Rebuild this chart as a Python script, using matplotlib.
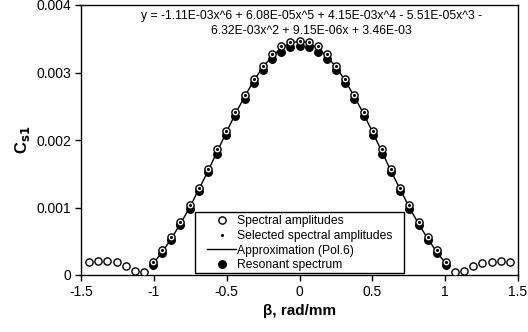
import numpy as np
import matplotlib
matplotlib.use('Agg')
import matplotlib.pyplot as plt
from matplotlib.patches import Rectangle

plt.rcParams['font.family'] = ['Liberation Sans', 'DejaVu Sans']

# beta positions, rad/mm (step ~0.0628)
beta = [-1.445, -1.382, -1.319, -1.256, -1.194, -1.131, -1.068, -1.005,
        -0.942, -0.880, -0.817, -0.754, -0.691, -0.628, -0.565, -0.503,
        -0.440, -0.377, -0.314, -0.251, -0.188, -0.126, -0.063, 0.0,
        0.063, 0.126, 0.188, 0.251, 0.314, 0.377, 0.440, 0.503,
        0.565, 0.628, 0.691, 0.754, 0.817, 0.880, 0.942, 1.005,
        1.068, 1.131, 1.194, 1.256, 1.319, 1.382, 1.445]

# spectral amplitudes (open circles), x1e-3
spectral = [0.20, 0.21, 0.21, 0.19, 0.14, 0.06, 0.05, 0.19,
            0.37, 0.57, 0.79, 1.03, 1.29, 1.57, 1.86, 2.14,
            2.41, 2.67, 2.90, 3.10, 3.27, 3.39, 3.45, 3.47,
            3.45, 3.39, 3.27, 3.10, 2.90, 2.67, 2.41, 2.14,
            1.86, 1.57, 1.29, 1.03, 0.79, 0.57, 0.37, 0.19,
            0.05, 0.06, 0.13, 0.18, 0.20, 0.21, 0.20]

# selected range (|beta| <= 1)
beta_sel = beta[7:40]
selected = spectral[7:40]

# polynomial approximation read at the selected points, x1e-3
approx = [0.17, 0.34, 0.54, 0.76, 1.00, 1.27, 1.54, 1.83, 2.11,
          2.39, 2.64, 2.88, 3.08, 3.24, 3.36, 3.44, 3.46,
          3.44, 3.36, 3.24, 3.08, 2.88, 2.64, 2.39, 2.11,
          1.83, 1.54, 1.27, 1.00, 0.76, 0.54, 0.34, 0.17]

# resonant spectrum (filled circles), x1e-3
resonant = [0.15, 0.32, 0.52, 0.74, 0.98, 1.24, 1.52, 1.80, 2.08,
            2.35, 2.61, 2.84, 3.04, 3.20, 3.31, 3.38, 3.40,
            3.38, 3.31, 3.20, 3.04, 2.84, 2.61, 2.35, 2.08,
            1.80, 1.52, 1.24, 0.98, 0.74, 0.52, 0.32, 0.15]

equation = ('y = -1.11E-03x^6 + 6.08E-05x^5 + 4.15E-03x^4 - 5.51E-05x^3 -\n'
            '6.32E-03x^2 + 9.15E-06x + 3.46E-03')

W, H = 528, 332
sc = 1e-3
fig = plt.figure(figsize=(W / 100, H / 100), dpi=100)
ax = fig.add_axes([81 / W, 1 - 275 / H, 437 / W, 270 / H])

ax.plot(beta_sel, np.array(resonant) * sc, 'o', color='black', ms=5.4,
        zorder=2, label='Resonant spectrum')
ax.plot(beta_sel, np.array(approx) * sc, '-', color='black', lw=1.0,
        zorder=3, label='Approximation (Pol.6)')
ax.plot(beta, np.array(spectral) * sc, 'o', mfc='white', mec='black',
        mew=1.0, ms=5.2, zorder=4, label='Spectral amplitudes')
ax.plot(beta_sel, np.array(selected) * sc, '.', color='black', ms=2.5,
        zorder=5, label='Selected spectral amplitudes')

ax.set_xlim(-1.5, 1.5)
ax.set_ylim(0, 0.004)
ax.set_xticks([-1.5, -1, -0.5, 0, 0.5, 1, 1.5])
ax.set_xticklabels(['-1.5', '-1', '-0.5', '0', '0.5', '1', '1.5'])
ax.set_yticks([0, 0.001, 0.002, 0.003, 0.004])
ax.set_yticklabels(['0', '0.001', '0.002', '0.003', '0.004'])
ax.tick_params(direction='out', length=4, width=1, labelsize=10, pad=3)
for s in ax.spines.values():
    s.set_linewidth(1.0)

ax.set_xlabel('β, rad/mm', fontsize=11, fontweight='bold', labelpad=4)
ax.set_ylabel('C$_{\\mathbf{s1}}$', fontsize=12, fontweight='bold', labelpad=3)

ax.text(0.08, 0.00392, equation, ha='center', va='top', fontsize=8.7,
        linespacing=1.25)

# legend with a hand-placed square frame
fig.patches.append(Rectangle((195 / W, 1 - 273 / H), 209 / W, 61 / H,
                             transform=fig.transFigure, fill=True,
                             facecolor='white', edgecolor='black', lw=1.0,
                             zorder=10))
h, l = ax.get_legend_handles_labels()
order = [2, 3, 1, 0]
leg = fig.legend([h[i] for i in order], [l[i] for i in order],
                 loc='upper left', bbox_to_anchor=(206 / W, 1 - 214 / H),
                 fontsize=8.7, frameon=False, borderpad=0.1,
                 labelspacing=0.22, handlelength=2.4, handletextpad=0.1,
                 borderaxespad=0)
leg.set_zorder(11)

fig.savefig('out.png', dpi=100)
